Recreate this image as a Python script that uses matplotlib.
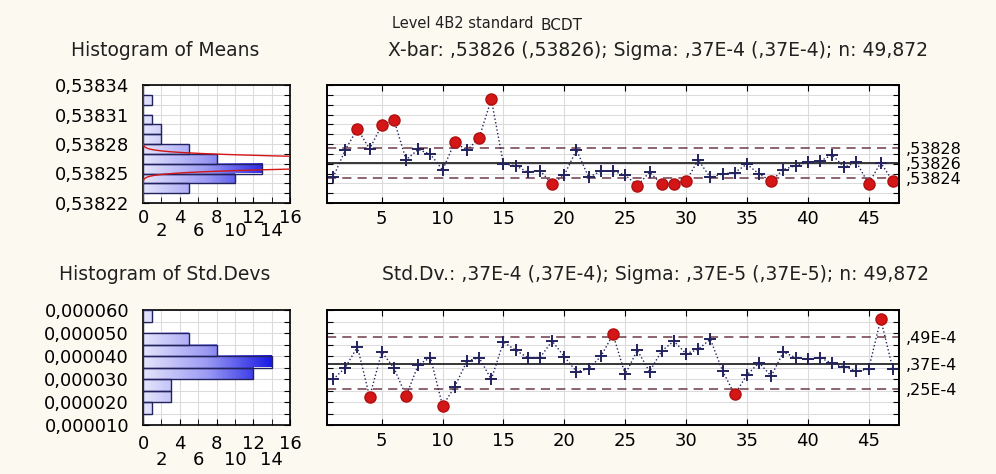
#!/usr/bin/env python3

"""
X-bar and S control charts with side histograms (Level 4B2 standard BCDT)
"""

import numpy as np
import matplotlib.pyplot as plt
from matplotlib.colors import LinearSegmentedColormap

# subgroup numbers
samples = list(range(1, 48))

# subgroup means
means = [0.538246, 0.538274, 0.5382955, 0.538275, 0.538299, 0.5383046, 0.538264, 0.5382745, 0.5382695, 0.5382536,
         0.538282, 0.5382734, 0.5382863, 0.5383254, 0.5382595, 0.538258, 0.5382513, 0.538253, 0.5382394, 0.5382485,
         0.538274, 0.5382462, 0.5382523, 0.5382523, 0.5382485, 0.5382377, 0.5382513, 0.5382394, 0.5382398, 0.538242,
         0.5382638, 0.538246, 0.5382496, 0.538251, 0.5382595, 0.5382495, 0.5382424, 0.538254, 0.538258, 0.5382615,
         0.5382625, 0.538269, 0.5382564, 0.5382615, 0.5382396, 0.538261, 0.538242]

# subgroup standard deviations
std_devs = [2.98e-5, 3.49e-5, 4.40e-5, 2.23e-5, 4.17e-5, 3.48e-5, 2.26e-5, 3.62e-5, 3.93e-5, 1.83e-5,
            2.67e-5, 3.78e-5, 3.93e-5, 2.98e-5, 4.61e-5, 4.25e-5, 3.93e-5, 3.93e-5, 4.65e-5, 3.97e-5,
            3.32e-5, 3.45e-5, 3.98e-5, 4.94e-5, 3.20e-5, 4.25e-5, 3.32e-5, 4.22e-5, 4.65e-5, 4.10e-5,
            4.29e-5, 4.73e-5, 3.35e-5, 2.33e-5, 3.17e-5, 3.71e-5, 3.13e-5, 4.17e-5, 3.93e-5, 3.86e-5,
            3.93e-5, 3.68e-5, 3.53e-5, 3.35e-5, 3.42e-5, 5.60e-5, 3.42e-5]

# control limits (UCL, center, LCL) and their printed labels
mean_limits = [0.5382758, 0.538261, 0.5382455]
mean_limit_labels = [",53828", ",53826", ",53824"]
sd_limits = [4.84e-5, 3.67e-5, 2.55e-5]
sd_limit_labels = [",49E-4", ",37E-4", ",25E-4"]

title_main = "Level 4B2 standard"
title_sub = "BCDT"
mean_header = "X-bar: ,53826 (,53826); Sigma: ,37E-4 (,37E-4); n: 49,872"
sd_header = "Std.Dv.: ,37E-4 (,37E-4); Sigma: ,37E-5 (,37E-5); n: 49,872"

W, H = 996, 474
BG = "#fcfaf0"
NAVY = "#22225e"
RED = "#d41616"
LIMIT = "#6e3a4a"
GRID = "#dcdcdc"
TXT = "#202020"
FS = 13

plt.rcParams["font.family"] = ["DejaVu Sans"]

bar_cmap = LinearSegmentedColormap.from_list("barblue", ["#e4e4fc", "#9a9af4", "#1a1ae4"])


def rect(x0, y0, x1, y1):
    """pixel box -> figure fraction [left, bottom, width, height]"""
    return [x0 / W, 1 - y1 / H, (x1 - x0) / W, (y1 - y0) / H]


def comma(value, digits):
    return f"{value:.{digits}f}".replace(".", ",")


def draw_histogram(ax, values, edges, label_every, digits, pad, row_gap, curve=None):
    counts, _ = np.histogram(values, bins=edges)
    binw = edges[1] - edges[0]
    for count, y0, y1 in zip(counts, edges[:-1], edges[1:]):
        if count == 0:
            continue
        grad = np.linspace(0, count, 64).reshape(1, -1)
        ax.imshow(grad, extent=[0, count, y0, y1], cmap=bar_cmap, vmin=0, vmax=14,
                  aspect="auto", origin="lower", interpolation="bilinear", zorder=2)
    ax.barh(edges[:-1], counts, height=binw, align="edge", fill=False,
            edgecolor=NAVY, linewidth=1.0, zorder=3)
    if curve is not None:
        ax.plot(curve[0], curve[1], color=RED, lw=1.0, zorder=4)
    ax.set_xlim(0, 16)
    ax.set_ylim(edges[0], edges[-1])
    # staggered count labels: 0 4 8 12 16 on top row, 2 6 10 14 below
    ax.set_xticks([0, 4, 8, 12, 16])
    ax.set_xticks([2, 6, 10, 14], minor=True)
    ax.set_xticklabels(["2", "6", "10", "14"], minor=True)
    ax.set_yticks(edges)
    ax.set_yticklabels([comma(e, digits) if i % label_every == 0 else ""
                        for i, e in enumerate(edges)])
    ax.grid(True, which="both", axis="x", color=GRID, lw=0.8, zorder=0)
    ax.grid(True, axis="y", color=GRID, lw=0.8, zorder=0)
    ax.set_axisbelow(True)
    ax.tick_params(which="both", direction="in", length=4, right=True, top=False,
                   labelsize=FS)
    ax.tick_params(axis="y", pad=10)
    ax.tick_params(axis="x", which="major", pad=pad)
    ax.tick_params(axis="x", which="minor", pad=pad + row_gap)
    for s in ax.spines.values():
        s.set_linewidth(1.2)


def draw_chart(ax, values, limits, limit_labels, ylim, ystep):
    values = np.array(values)
    ucl, cl, lcl = limits
    ax.plot(samples, values, ls=":", color=NAVY, lw=1.0, zorder=3)
    out = (values > ucl) | (values < lcl)
    x = np.array(samples)
    ax.plot(x[~out], values[~out], ls="none", marker="+", ms=9, mew=1.4, color=NAVY, zorder=4)
    ax.plot(x[out], values[out], ls="none", marker="o", ms=8, color=RED,
            markeredgecolor="#b01010", zorder=5)
    ax.axhline(cl, color="black", lw=1.1, zorder=2)
    for lim in (ucl, lcl):
        ax.axhline(lim, color=LIMIT, lw=1.1, dashes=(6, 4), zorder=2)
    ax.set_xlim(0.5, 47.5)
    ax.set_ylim(*ylim)
    ax.set_xticks(range(5, 47, 5))
    ax.set_yticks(np.arange(ylim[0], ylim[1] + ystep / 2, ystep))
    ax.set_yticklabels([])
    ax.grid(True, color=GRID, lw=0.8, zorder=0)
    ax.set_axisbelow(True)
    ax2 = ax.twinx()
    ax2.set_ylim(*ylim)
    ax2.set_yticks(limits)
    ax2.set_yticklabels(limit_labels)
    ax2.tick_params(length=0, pad=5, labelsize=11.5)
    ax.tick_params(direction="in", length=4, right=True, top=True,
                   labelsize=FS, pad=5)
    for a in (ax, ax2):
        for s in a.spines.values():
            s.set_linewidth(1.2)


fig = plt.figure(figsize=(W / 100, H / 100), dpi=100, facecolor=BG)

# normal curve over the means histogram
mean_edges = 0.53822 + 1e-5 * np.arange(13)
sigma_m = (mean_limits[0] - mean_limits[1]) / 3
yy = np.linspace(mean_edges[0], mean_edges[-1], 600)
xx = len(means) * 1e-5 * np.exp(-0.5 * ((yy - mean_limits[1]) / sigma_m) ** 2) / (sigma_m * np.sqrt(2 * np.pi))

ax_hm = fig.add_axes(rect(143, 85, 290, 203))
draw_histogram(ax_hm, means, mean_edges, 3, 5, 4, 10, curve=(xx, yy))

ax_cm = fig.add_axes(rect(327, 85, 899, 203))
draw_chart(ax_cm, means, mean_limits, mean_limit_labels, (0.53822, 0.53834), 1e-5)

sd_edges = 1e-5 + 5e-6 * np.arange(11)
ax_hs = fig.add_axes(rect(143, 310, 290, 425))
draw_histogram(ax_hs, std_devs, sd_edges, 2, 6, 7, 12)

ax_cs = fig.add_axes(rect(327, 310, 899, 425))
draw_chart(ax_cs, std_devs, sd_limits, sd_limit_labels, (1e-5, 6e-5), 5e-6)

# titles
fig.text(538 / W, 1 - 23 / H, title_main + " ", ha="right", va="center", fontsize=10.5, color=TXT)
fig.text(540 / W, 1 - 25 / H, title_sub, ha="left", va="center", fontsize=11, color=TXT)
fig.text(165 / W, 1 - 51 / H, "Histogram of Means", ha="center", va="center", fontsize=13.5, color=TXT)
fig.text(658 / W, 1 - 51 / H, mean_header, ha="center", va="center", fontsize=13.5, color=TXT)
fig.text(165 / W, 1 - 275 / H, "Histogram of Std.Devs", ha="center", va="center", fontsize=13.5, color=TXT)
fig.text(655 / W, 1 - 275 / H, sd_header, ha="center", va="center", fontsize=13.5, color=TXT)

fig.savefig("out.png", dpi=100, facecolor=BG)
